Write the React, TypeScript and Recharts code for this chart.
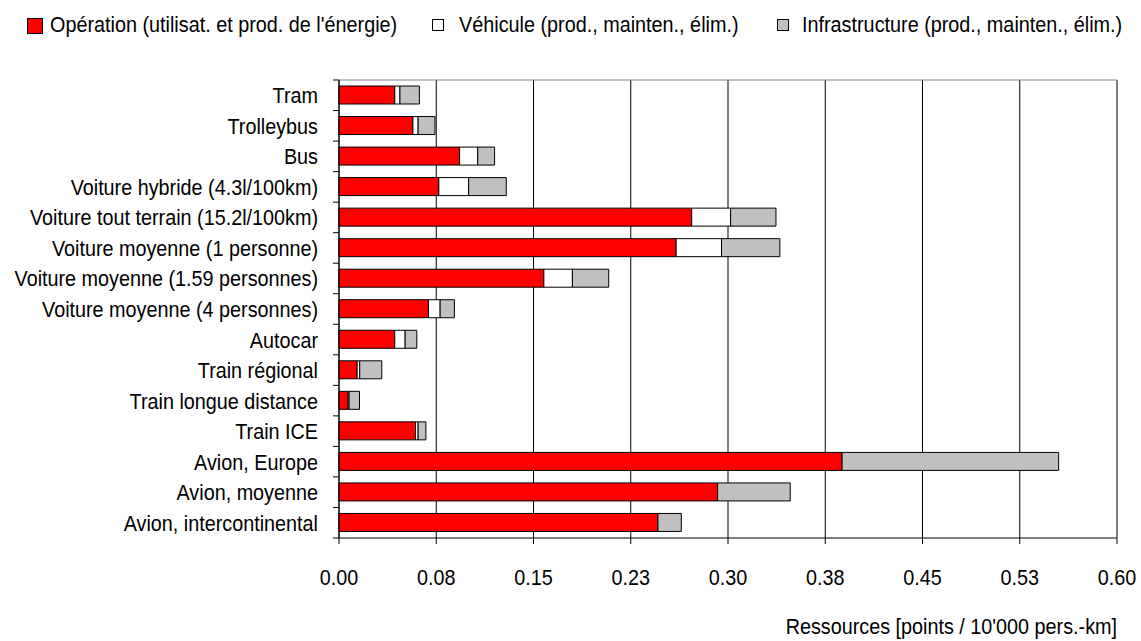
import { Bar, BarChart, CartesianGrid, XAxis, YAxis } from "recharts";

const categories = [
  "Tram",
  "Trolleybus",
  "Bus",
  "Voiture hybride (4.3l/100km)",
  "Voiture tout terrain (15.2l/100km)",
  "Voiture moyenne (1 personne)",
  "Voiture moyenne (1.59 personnes)",
  "Voiture moyenne (4 personnes)",
  "Autocar",
  "Train régional",
  "Train longue distance",
  "Train ICE",
  "Avion, Europe",
  "Avion, moyenne",
  "Avion, intercontinental",
];

const operation = [0.043, 0.057, 0.093, 0.077, 0.272, 0.26, 0.158, 0.069, 0.043, 0.014, 0.007, 0.059, 0.388, 0.292, 0.246];
const vehicule = [0.004, 0.004, 0.014, 0.023, 0.03, 0.035, 0.022, 0.009, 0.008, 0.002, 0.0008, 0.002, 0, 0, 0];
const infrastructure = [0.015, 0.013, 0.013, 0.029, 0.035, 0.045, 0.028, 0.011, 0.009, 0.017, 0.008, 0.006, 0.167, 0.056, 0.018];

const xTicks = [0, 0.075, 0.15, 0.225, 0.3, 0.375, 0.45, 0.525, 0.6];
const xTickLabels = ["0.00", "0.08", "0.15", "0.23", "0.30", "0.38", "0.45", "0.53", "0.60"];

const series = [
  { key: "operation", name: "Opération (utilisat. et prod. de l'énergie)", color: "#ff0000" },
  { key: "vehicule", name: "Véhicule (prod., mainten., élim.)", color: "#ffffff" },
  { key: "infrastructure", name: "Infrastructure (prod., mainten., élim.)", color: "#c0c0c0" },
];

const data = categories.map((name, i) => ({
  name,
  operation: operation[i],
  vehicule: vehicule[i],
  infrastructure: infrastructure[i],
}));

// no narrow font available, so Liberation Sans squeezed horizontally
const FONT = "'Liberation Sans', Arial, sans-serif";
const FS = 22;
const SQUEEZE = 0.9;
const W = 1141;
const H = 641;
const TOP = 80;
const XAXIS_H = 103;
const YAXIS_W = 339;
const TICK_MARGIN = 15;
const band = (H - TOP - XAXIS_H) / categories.length;

function NarrowText({ x, y, anchor, children }: any) {
  return (
    <text transform={`translate(${x} ${y}) scale(${SQUEEZE} 1)`} textAnchor={anchor} fill="#000" fontSize={FS} fontFamily={FONT}>
      {children}
    </text>
  );
}

function CategoryTick(props: any) {
  const { x, y, payload, index } = props;
  const ax = x + TICK_MARGIN + 6;
  return (
    <g>
      <NarrowText x={x} y={y + 8} anchor="end">
        {payload.value}
      </NarrowText>
      <line x1={ax - 6} x2={ax} y1={y - band / 2} y2={y - band / 2} stroke="#000" />
      {index === categories.length - 1 && (
        <line x1={ax - 6} x2={ax} y1={y + band / 2} y2={y + band / 2} stroke="#000" />
      )}
    </g>
  );
}

function ValueTick(props: any) {
  const { x, y, index } = props;
  return (
    <NarrowText x={x} y={y + 41} anchor="middle">
      {xTickLabels[index]}
    </NarrowText>
  );
}

function AxisTitle(props: any) {
  const { x, y, width, height } = props.viewBox;
  return (
    <NarrowText x={x + width} y={y + height - 7} anchor="end">
      Ressources [points / 10'000 pers.-km]
    </NarrowText>
  );
}

const legendKeys = [
  { left: 27, top: 18, size: 16, textLeft: 50 },
  { left: 432, top: 19, size: 12, textLeft: 459 },
  { left: 777, top: 19, size: 12, textLeft: 802 },
];

export default function App() {
  return (
    <div style={{ position: "absolute", left: 0, top: 0, width: W, height: H, background: "#fff" }}>
      {series.map((s, i) => {
        const k = legendKeys[i];
        return (
          <div key={s.key}>
            <div
              style={{
                position: "absolute",
                left: k.left,
                top: k.top,
                width: k.size - 2,
                height: k.size - 2,
                background: s.color,
                border: "1px solid #000",
              }}
            />
            <div
              style={{
                position: "absolute",
                left: k.textLeft,
                top: 14,
                fontFamily: FONT,
                fontSize: FS,
                lineHeight: "22px",
                whiteSpace: "nowrap",
                color: "#000",
                transform: `scaleX(${SQUEEZE})`,
                transformOrigin: "left",
              }}
            >
              {s.name}
            </div>
          </div>
        );
      })}
      <BarChart
        width={W}
        height={H}
        data={data}
        layout="vertical"
        margin={{ top: TOP, right: 24, bottom: 0, left: 0 }}
        barSize={18}
      >
        <CartesianGrid horizontal={false} stroke="#000" />
        <CartesianGrid vertical={false} stroke="#808080" horizontalCoordinatesGenerator={({ offset }: any) => [offset.top]} />
        <XAxis
          type="number"
          domain={[0, 0.6]}
          ticks={xTicks}
          interval={0}
          height={XAXIS_H}
          tick={<ValueTick />}
          tickSize={6}
          tickMargin={0}
          axisLine={{ stroke: "#000" }}
          tickLine={{ stroke: "#000" }}
          label={<AxisTitle />}
        />
        <YAxis
          type="category"
          dataKey="name"
          width={YAXIS_W}
          interval={0}
          tickLine={false}
          tickSize={6}
          tickMargin={TICK_MARGIN}
          axisLine={{ stroke: "#000" }}
          tick={<CategoryTick />}
        />
        {series.map((s) => (
          <Bar key={s.key} dataKey={s.key} name={s.name} stackId="a" fill={s.color} stroke="#000" strokeWidth={1} isAnimationActive={false} />
        ))}
      </BarChart>
    </div>
  );
}
